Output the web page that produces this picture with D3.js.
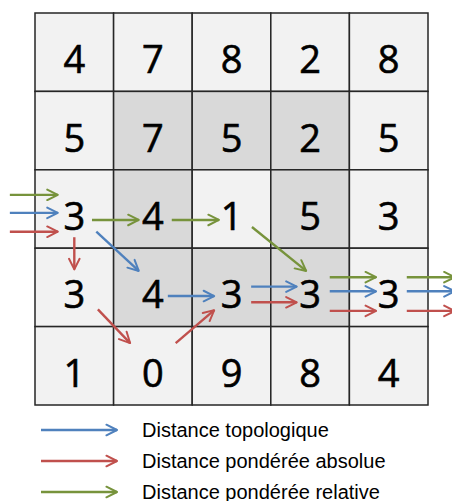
<!DOCTYPE html>
<html>
<head>
<meta charset="utf-8">
<script src="https://cdn.jsdelivr.net/npm/d3@7"></script>
<style>
  body { margin: 0; background: #fff; }
  svg { display: block; }
</style>
</head>
<body>
<svg width="452" height="501"></svg>
<script>
// cell values, row by row
var grid = [
  [4, 7, 8, 2, 8],
  [5, 7, 5, 2, 5],
  [3, 4, 1, 5, 3],
  [3, 4, 3, 3, 3],
  [1, 0, 9, 8, 4]
];
// darker cells (1 = shaded)
var shade = [
  [0, 0, 0, 0, 0],
  [0, 1, 1, 1, 0],
  [0, 1, 0, 1, 0],
  [0, 1, 1, 1, 0],
  [0, 0, 0, 0, 0]
];

var seriesNames = ["Distance topologique", "Distance pondérée absolue", "Distance pondérée relative"];
var seriesKeys = ["topo", "abs", "rel"];

// arrows in grid units [x0, y0, x1, y1]
var arrowsTopo = [
  [-0.32, 2.55, 0.29, 2.55],
  [0.78, 2.79, 1.32, 3.29],
  [1.69, 3.61, 2.28, 3.61],
  [2.75, 3.49, 3.33, 3.49],
  [3.75, 3.55, 4.34, 3.55],
  [4.73, 3.55, 5.34, 3.55]
];
var arrowsAbs = [
  [-0.32, 2.79, 0.29, 2.79],
  [0.50, 2.86, 0.50, 3.27],
  [0.80, 3.78, 1.21, 4.21],
  [1.79, 4.21, 2.28, 3.79],
  [2.75, 3.69, 3.33, 3.69],
  [3.75, 3.80, 4.34, 3.80],
  [4.73, 3.80, 5.34, 3.80]
];
var arrowsRel = [
  [-0.32, 2.32, 0.29, 2.32],
  [0.725, 2.64, 1.32, 2.64],
  [1.74, 2.64, 2.34, 2.64],
  [2.76, 2.73, 3.45, 3.29],
  [3.75, 3.37, 4.34, 3.37],
  [4.73, 3.37, 5.34, 3.37]
];

var colors = { topo: "#4f81bd", abs: "#c0504d", rel: "#77933c" };

var svg = d3.select("svg");

var gx = d3.scaleLinear().domain([0, 5]).range([35, 428]);
var gy = d3.scaleLinear().domain([0, 5]).range([13, 405]);

var defs = svg.append("defs");
seriesKeys.forEach(function(k) {
  defs.append("marker")
    .attr("id", "head-" + k)
    .attr("viewBox", "0 0 10 10")
    .attr("refX", 9).attr("refY", 5)
    .attr("markerWidth", 5.5).attr("markerHeight", 5.5)
    .attr("markerUnits", "strokeWidth")
    .attr("orient", "auto")
    .append("path")
      .attr("d", "M1,1 L9,5 L1,9")
      .attr("fill", "none")
      .attr("stroke", colors[k])
      .attr("stroke-width", 1.5)
      .attr("stroke-linecap", "round")
      .attr("stroke-linejoin", "round");
});

var cells = [];
grid.forEach(function(row, r) {
  row.forEach(function(v, c) {
    cells.push({ r: r, c: c, v: v, s: shade[r][c] });
  });
});

var g = svg.append("g");

g.selectAll("rect.cell")
  .data(cells)
  .enter().append("rect")
    .attr("class", "cell")
    .attr("x", function(d) { return gx(d.c); })
    .attr("y", function(d) { return gy(d.r); })
    .attr("width", gx(1) - gx(0))
    .attr("height", gy(1) - gy(0))
    .attr("fill", function(d) { return d.s ? "#d9d9d9" : "#f2f2f2"; })
    .attr("stroke", "#262626")
    .attr("stroke-width", 1.5);

g.selectAll("text.val")
  .data(cells)
  .enter().append("text")
    .attr("class", "val")
    .attr("x", function(d) { return gx(d.c + 0.5); })
    .attr("y", function(d) { return gy(d.r + 0.5) + 21; })
    .attr("text-anchor", "middle")
    .attr("font-family", "'Open Sans', sans-serif")
    .attr("font-size", 38)
    .attr("fill", "#000")
    .attr("stroke", "#000")
    .attr("stroke-width", 0.6)
    .text(function(d) { return d.v; });

var arrowSets = { topo: arrowsTopo, abs: arrowsAbs, rel: arrowsRel };

seriesKeys.forEach(function(k) {
  g.selectAll("line.a-" + k)
    .data(arrowSets[k])
    .enter().append("line")
      .attr("class", "a-" + k)
      .attr("x1", function(d) { return gx(d[0]); })
      .attr("y1", function(d) { return gy(d[1]); })
      .attr("x2", function(d) { return gx(d[2]); })
      .attr("y2", function(d) { return gy(d[3]); })
      .attr("stroke", colors[k])
      .attr("stroke-width", 2.4)
      .attr("marker-end", "url(#head-" + k + ")");
});

// legend
var ly = d3.scalePoint().domain(seriesKeys).range([430, 492]);

var legend = svg.append("g").selectAll("g")
  .data(seriesKeys)
  .enter().append("g")
    .attr("transform", function(d) { return "translate(0," + ly(d) + ")"; });

legend.append("line")
  .attr("x1", 41).attr("x2", 117)
  .attr("y1", 0).attr("y2", 0)
  .attr("stroke", function(d) { return colors[d]; })
  .attr("stroke-width", 2.4)
  .attr("marker-end", function(d) { return "url(#head-" + d + ")"; });

legend.append("text")
  .attr("x", 142)
  .attr("y", 7)
  .attr("font-family", "'Liberation Sans', Arial, sans-serif")
  .attr("font-size", 20)
  .attr("fill", "#000")
  .text(function(d, i) { return seriesNames[i]; });
</script>
</body>
</html>
